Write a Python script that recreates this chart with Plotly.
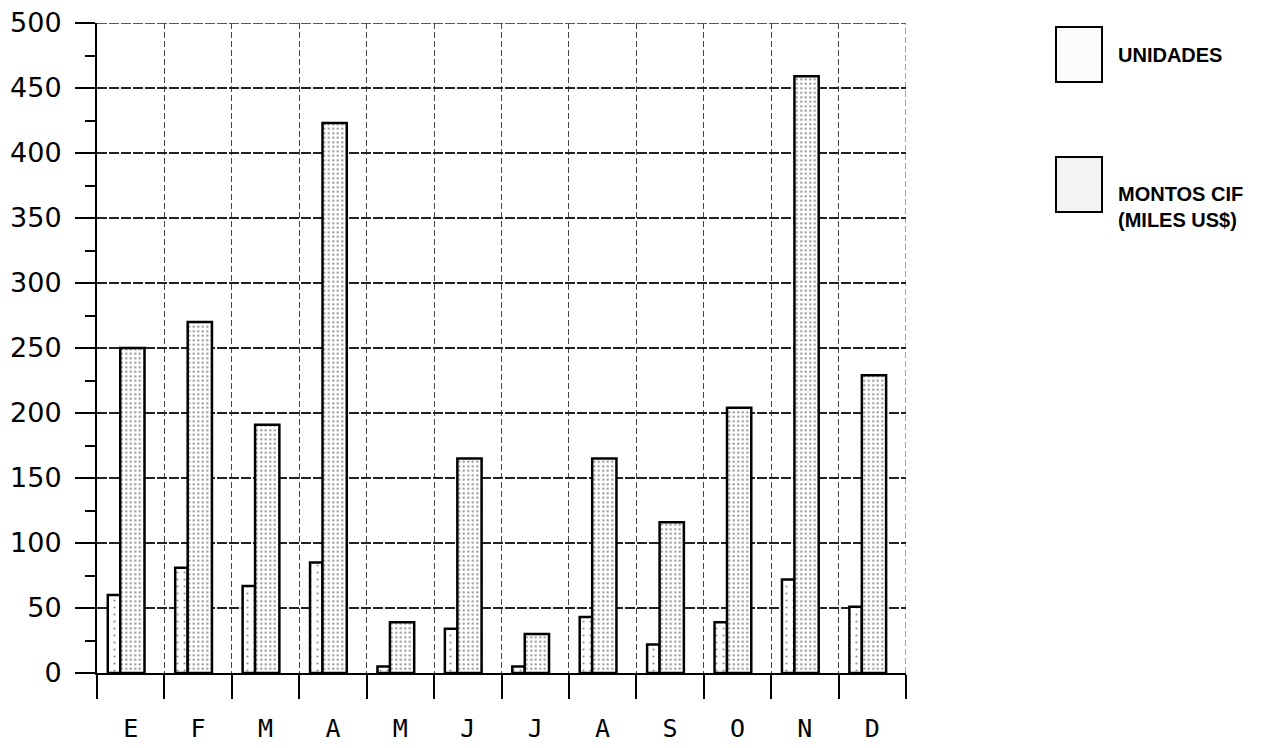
import plotly.graph_objects as go

months = ["E", "F", "M", "A", "M", "J", "J", "A", "S", "O", "N", "D"]
unidades = [60, 81, 67, 85, 5, 34, 5, 43, 22, 39, 72, 51]
montos_cif = [250, 270, 191, 423, 39, 165, 30, 165, 116, 204, 459, 229]
y_ticks = [0, 50, 100, 150, 200, 250, 300, 350, 400, 450, 500]

x_idx = list(range(len(months)))
bounds = [i - 0.5 for i in range(len(months) + 1)]

fig = go.Figure()
fig.add_trace(go.Bar(
    x=x_idx, y=unidades, name="UNIDADES",
    offset=-0.34, width=0.185,
    marker=dict(color="white",
                line=dict(color="black", width=2.5),
                pattern=dict(shape=".", fgcolor="#222", bgcolor="white", size=7, solidity=0.08)),
    showlegend=False,
))
fig.add_trace(go.Bar(
    x=x_idx, y=montos_cif, name="MONTOS CIF (MILES US$)",
    offset=-0.155, width=0.36,
    marker=dict(color="white",
                line=dict(color="black", width=2.5),
                pattern=dict(shape=".", fgcolor="#222", bgcolor="white", size=4.5, solidity=0.2)),
    showlegend=False,
))

# page body has an 8px margin; figure sized to the visible area
OFF = 8
W, H = 1271 - OFF, 748 - OFF
# desired plot area in screen pixels
SX0, SX1, SY0, SY1 = 97, 906, 23, 673
L = SX0 - OFF
T = SY0 - OFF
R = W - (SX1 - OFF)
B = H - (SY1 - OFF)
pw = SX1 - SX0
ph = SY1 - SY0

def px_x(p):
    return (p - SX0) / pw

def px_y(p):
    return (SY1 - p) / ph

shapes = []
annotations = []

# edge gridlines (top at 500 and right boundary) which plotly omits at the range edges
shapes.append(dict(type="line", xref="paper", yref="y", x0=0, x1=1, y0=y_ticks[-1], y1=y_ticks[-1],
                   line=dict(color="#222", width=1.5, dash="10px,2px"), layer="below"))
shapes.append(dict(type="line", xref="x", yref="paper", x0=bounds[-1], x1=bounds[-1], y0=0, y1=1,
                   line=dict(color="#444", width=1, dash="6px,3px"), layer="below"))

legend_boxes = [(27, 82, "#fbfbfb"), (157, 212, "#f3f3f3")]
for (y0, y1, col) in legend_boxes:
    shapes.append(dict(type="rect", xref="paper", yref="paper",
                       x0=px_x(1056), x1=px_x(1102), y0=px_y(y1), y1=px_y(y0),
                       line=dict(color="black", width=2), fillcolor=col, layer="above"))

annotations.append(dict(xref="paper", yref="paper", x=px_x(1116), y=px_y(55),
                        text="UNIDADES", showarrow=False, xanchor="left", yanchor="middle",
                        font=dict(family="Liberation Sans", size=20, color="black", weight="bold")))
annotations.append(dict(xref="paper", yref="paper", x=px_x(1116), y=px_y(207),
                        text="MONTOS CIF<br>(MILES US$)", showarrow=False, xanchor="left",
                        yanchor="middle", align="left",
                        font=dict(family="Liberation Sans", size=20, color="black", weight="bold")))

fig.update_layout(
    width=W, height=H,
    margin=dict(l=L, r=R, t=T, b=B, autoexpand=False),
    paper_bgcolor="white", plot_bgcolor="white",
    barmode="overlay",
    shapes=shapes, annotations=annotations,
    xaxis=dict(
        range=[bounds[0], bounds[-1]], automargin=False,
        tickmode="array", tickvals=x_idx, ticktext=months,
        ticks="", showgrid=False, zeroline=False,
        showline=True, linecolor="black", linewidth=2,
        tickfont=dict(family="DejaVu Sans Mono", size=25, color="black"),
        ticklabelstandoff=32, ticklabeloverflow="allow",
        minor=dict(tickmode="array", tickvals=bounds, ticks="outside", ticklen=24,
                   tickwidth=2, tickcolor="black",
                   showgrid=True, gridcolor="#444", gridwidth=1, griddash="6px,3px"),
    ),
    yaxis=dict(
        range=[0, 500], automargin=False,
        tickmode="array", tickvals=y_ticks,
        ticks="outside", ticklen=20, tickwidth=2, tickcolor="black",
        showgrid=True, gridcolor="#222", gridwidth=1.5, griddash="10px,2px",
        zeroline=False,
        showline=True, linecolor="black", linewidth=2,
        tickfont=dict(family="DejaVu Sans", size=27, color="black"),
        ticklabelstandoff=8, ticklabeloverflow="allow",
        minor=dict(dtick=25, ticks="outside", ticklen=10, tickwidth=2, tickcolor="black",
                   showgrid=False),
    ),
)

fig.write_html("out.html")
